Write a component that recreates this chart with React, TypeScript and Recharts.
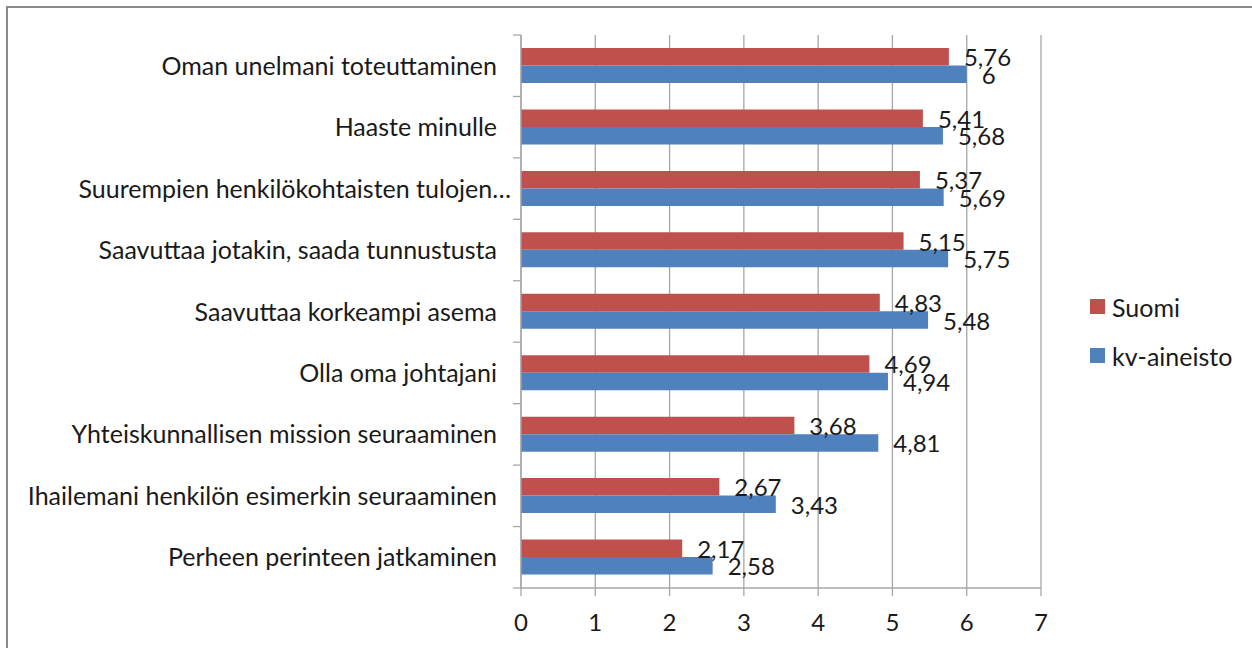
import React from 'react';
import { BarChart, Bar, XAxis, YAxis, CartesianGrid, LabelList, Legend } from 'recharts';

const categories = [
  'Oman unelmani toteuttaminen',
  'Haaste minulle',
  'Suurempien henkilökohtaisten tulojen…',
  'Saavuttaa jotakin, saada tunnustusta',
  'Saavuttaa korkeampi asema',
  'Olla oma johtajani',
  'Yhteiskunnallisen mission seuraaminen',
  'Ihailemani henkilön esimerkin seuraaminen',
  'Perheen perinteen jatkaminen',
];
const suomi = [5.76, 5.41, 5.37, 5.15, 4.83, 4.69, 3.68, 2.67, 2.17];
const kv = [6, 5.68, 5.69, 5.75, 5.48, 4.94, 4.81, 3.43, 2.58];
const xTicks = [0, 1, 2, 3, 4, 5, 6, 7];
const seriesNames = ['Suomi', 'kv-aineisto'];

const data = categories.map((c, i) => ({ name: c, suomi: suomi[i], kv: kv[i] }));

const FONT = 'Lato, Carlito, Calibri, sans-serif';
const RED = '#C0504D';
const BLUE = '#4F81BD';
const GRID = '#A6A6A6';
const TEXT = '#1a1a1a';
const W = 1252;
const H = 648;
const PLOT_TOP = 35;
const PLOT_BOTTOM = 588;
const AXIS_X = 521;
const STEP = (PLOT_BOTTOM - PLOT_TOP) / categories.length;
const colors = [RED, BLUE];

const fmt = (v: number) => String(v).replace('.', ',');

const YTick = (props: any) => {
  const { y, payload, index } = props;
  const label: string = payload.value;
  const ellipsis = label.endsWith('…');
  const top = y - STEP / 2;
  return (
    <g>
      <line x1={AXIS_X - 8} x2={AXIS_X} y1={top} y2={top} stroke={GRID} strokeWidth={1.3} />
      {index === categories.length - 1 && (
        <line x1={AXIS_X - 8} x2={AXIS_X} y1={y + STEP / 2} y2={y + STEP / 2} stroke={GRID} strokeWidth={1.3} />
      )}
      <text
        x={ellipsis ? 511 : 497}
        y={y + 9}
        textAnchor="end"
        fontFamily={FONT}
        fontSize={25}
        fill={TEXT}
      >
        {label}
      </text>
    </g>
  );
};

const ValueLabel = (props: any) => {
  const { x, y, width, height, value } = props;
  return (
    <text
      x={x + width + 15}
      y={y + height / 2 + 9.5}
      fontFamily={FONT}
      fontSize={24}
      fill={TEXT}
    >
      {fmt(value)}
    </text>
  );
};

const renderLegend = () => (
  <div style={{ fontFamily: FONT, fontSize: 25, color: TEXT }}>
    {seriesNames.map((n, i) => (
      <div key={n} style={{ display: 'flex', alignItems: 'center', height: 49 }}>
        <span style={{ display: 'inline-block', width: 15, height: 15, background: colors[i], marginRight: 7 }} />
        <span>{n}</span>
      </div>
    ))}
  </div>
);

export default function App() {
  return (
    <div style={{ position: 'absolute', left: 0, top: 0, width: W, height: H, background: '#fff', overflow: 'hidden' }}>
      <div
        style={{
          position: 'absolute',
          left: 6,
          top: 6,
          width: W,
          height: H,
          borderLeft: '2px solid #8a8a8a',
          borderTop: '2px solid #8a8a8a',
        }}
      />
      <div style={{ position: 'absolute', left: 0, top: 0 }}>
        <BarChart
          width={W}
          height={H}
          data={data}
          layout="vertical"
          margin={{ top: PLOT_TOP, right: W - 1041, bottom: 0, left: 0 }}
          barGap={0}
        >
          <CartesianGrid horizontal={false} vertical={true} stroke={GRID} strokeWidth={1.3} />
          <XAxis
            type="number"
            domain={[0, 7]}
            ticks={xTicks}
            interval={0}
            height={H - PLOT_BOTTOM}
            axisLine={{ stroke: GRID, strokeWidth: 1.3 }}
            tickLine={{ stroke: GRID, strokeWidth: 1.3 }}
            tickSize={8}
            tickMargin={18}
            tick={{ fontFamily: FONT, fontSize: 24, fill: TEXT }}
          />
          <YAxis
            type="category"
            dataKey="name"
            width={AXIS_X}
            interval={0}
            axisLine={{ stroke: GRID, strokeWidth: 1.3 }}
            tickLine={false}
            tick={<YTick />}
          />
          <Legend
            layout="horizontal"
            verticalAlign="middle"
            align="center"
            content={renderLegend}
            wrapperStyle={{ left: 1090, top: 282, width: 160, height: 98 }}
          />
          <Bar dataKey="suomi" name={seriesNames[0]} fill={RED} barSize={17.5} isAnimationActive={false}>
            <LabelList dataKey="suomi" content={<ValueLabel />} />
          </Bar>
          <Bar dataKey="kv" name={seriesNames[1]} fill={BLUE} barSize={17.5} isAnimationActive={false}>
            <LabelList dataKey="kv" content={<ValueLabel />} />
          </Bar>
        </BarChart>
      </div>
    </div>
  );
}
